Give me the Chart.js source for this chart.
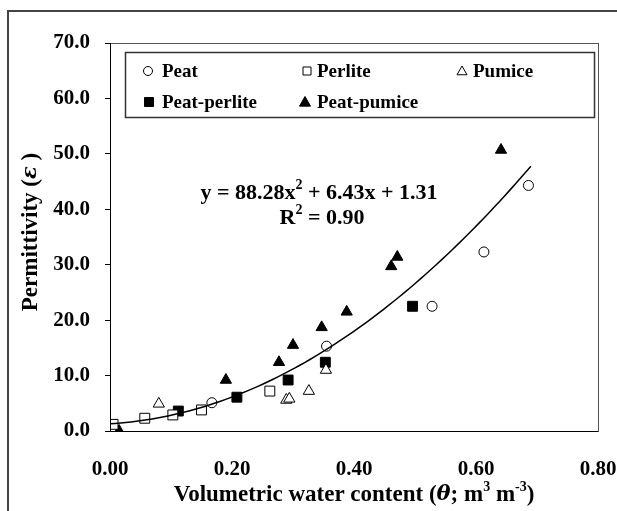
<!DOCTYPE html>
<html>
<head>
<meta charset="utf-8">
<script src="https://cdn.jsdelivr.net/npm/chart.js@4.4.1/dist/chart.umd.min.js"></script>
<style>
  html, body { margin: 0; padding: 0; background: #fff; }
  #wrap { width: 617px; height: 511px; }
</style>
</head>
<body>
<div id="wrap"><canvas id="chart" width="617" height="511"></canvas></div>
<script>
// ===== DATA =====
const peat = [
  { x: 0.167, y: 5.1 }, { x: 0.355, y: 15.3 }, { x: 0.528, y: 22.5 },
  { x: 0.613, y: 32.3 }, { x: 0.686, y: 44.3 }
];
const perlite = [
  { x: 0.005, y: 1.2 }, { x: 0.057, y: 2.3 }, { x: 0.103, y: 2.9 },
  { x: 0.150, y: 3.8 }, { x: 0.262, y: 7.2 }
];
const pumice = [
  { x: 0.080, y: 4.9 }, { x: 0.289, y: 5.6 }, { x: 0.294, y: 5.8 },
  { x: 0.326, y: 7.2 }, { x: 0.354, y: 11.0 }
];
const peatPerlite = [
  { x: 0.112, y: 3.6 }, { x: 0.208, y: 6.1 }, { x: 0.292, y: 9.2 },
  { x: 0.353, y: 12.4 }, { x: 0.496, y: 22.5 }
];
const peatPumice = [
  { x: 0.015, y: 0.0 }, { x: 0.190, y: 9.2 }, { x: 0.277, y: 12.4 },
  { x: 0.300, y: 15.5 }, { x: 0.347, y: 18.7 }, { x: 0.388, y: 21.5 },
  { x: 0.461, y: 29.7 }, { x: 0.471, y: 31.4 }, { x: 0.641, y: 50.7 }
];
const seriesNames = ["Peat", "Perlite", "Pumice", "Peat-perlite", "Peat-pumice"];
const xTicks = [0, 0.2, 0.4, 0.6, 0.8];
const yTicks = [0, 10, 20, 30, 40, 50, 60, 70];
const fitCoef = [88.28, 6.43, 1.31]; // y = a x^2 + b x + c
const fitRange = [0.0, 0.69];
const fitText = ["y = 88.28x", "2", " + 6.43x + 1.31"];
const r2Text = ["R", "2", " = 0.90"];

const SERIF = "'Liberation Serif', 'Times New Roman', serif";
const B = (s) => "bold " + s + "px " + SERIF;
const BI = (s) => "italic bold " + s + "px 'DejaVu Serif', " + SERIF;

// draw pieces of text, {t, font, dy}, centred on cx
function richText(ctx, parts, cx, cy) {
  let w = 0;
  parts.forEach(p => { ctx.font = p.font; w += ctx.measureText(p.t).width; });
  let x = cx - w / 2;
  ctx.textBaseline = "middle";
  ctx.textAlign = "left";
  parts.forEach(p => {
    ctx.font = p.font;
    ctx.fillText(p.t, x, cy + (p.dy || 0));
    x += ctx.measureText(p.t).width;
  });
}

function marker(ctx, style, x, y, r, filled) {
  ctx.beginPath();
  if (style === "circle") {
    ctx.arc(x, y, r, 0, Math.PI * 2);
  } else if (style === "rect") {
    ctx.rect(x - r, y - r, 2 * r, 2 * r);
  } else {
    ctx.moveTo(x, y - r * 1.0);
    ctx.lineTo(x + r, y + r * 0.75);
    ctx.lineTo(x - r, y + r * 0.75);
    ctx.closePath();
  }
  ctx.fillStyle = filled ? "#000" : "#fff";
  ctx.fill();
  ctx.lineWidth = 1;
  ctx.strokeStyle = "#000";
  ctx.stroke();
}

const framePlugin = {
  id: "frame",
  beforeDraw(chart) {
    const ctx = chart.ctx;
    ctx.save();
    ctx.strokeStyle = "#444";
    ctx.lineWidth = 2;
    ctx.beginPath();
    ctx.moveTo(8, 520);
    ctx.lineTo(8, 11);
    ctx.lineTo(620, 11);
    ctx.stroke();
    ctx.restore();
  },
  afterDraw(chart) {
    const ctx = chart.ctx;
    const a = chart.chartArea;
    ctx.save();
    // plot box
    ctx.strokeStyle = "#555";
    ctx.lineWidth = 1;
    ctx.strokeRect(a.left + 0.5, a.top + 0.5, a.right - a.left, a.bottom - a.top);
    ctx.strokeStyle = "#000";
    ctx.beginPath();
    ctx.moveTo(a.left + 0.5, a.top);
    ctx.lineTo(a.left + 0.5, a.bottom + 0.5);
    ctx.lineTo(a.right, a.bottom + 0.5);
    ctx.stroke();

    // legend
    ctx.strokeStyle = "#333";
    ctx.lineWidth = 1.5;
    ctx.strokeRect(125.5, 52.5, 469, 65);
    const items = [
      { s: "circle", f: false, x: 148, y: 71, r: 4.5, tx: 162 },
      { s: "rect", f: false, x: 307, y: 71, r: 4, tx: 317 },
      { s: "triangle", f: false, x: 462, y: 71, r: 5, tx: 473 },
      { s: "rect", f: true, x: 149, y: 102, r: 4.5, tx: 162 },
      { s: "triangle", f: true, x: 305, y: 102, r: 5.5, tx: 317 }
    ];
    items.forEach((it, i) => {
      marker(ctx, it.s, it.x, it.y, it.r, it.f);
      ctx.fillStyle = "#000";
      ctx.font = B(19);
      ctx.textAlign = "left";
      ctx.textBaseline = "middle";
      ctx.fillText(seriesNames[i], it.tx, it.y + 1);
    });

    // equation
    ctx.fillStyle = "#000";
    richText(ctx, [
      { t: fitText[0], font: B(22) },
      { t: fitText[1], font: B(14), dy: -8 },
      { t: fitText[2], font: B(22) }
    ], 319, 193);
    richText(ctx, [
      { t: r2Text[0], font: B(22) },
      { t: r2Text[1], font: B(14), dy: -8 },
      { t: r2Text[2], font: B(22) }
    ], 322, 218);

    // axis titles
    richText(ctx, [
      { t: "Volumetric water content (", font: B(23) },
      { t: "\u03B8", font: BI(21) },
      { t: "; m", font: B(23) },
      { t: "3", font: B(14), dy: -8 },
      { t: " m", font: B(23) },
      { t: "-3", font: B(14), dy: -8 },
      { t: ")", font: B(23) }
    ], 354, 495);

    ctx.translate(31, 232);
    ctx.rotate(-Math.PI / 2);
    richText(ctx, [
      { t: "Permittivity (", font: B(23) },
      { t: "\u03B5", font: BI(21) },
      { t: " )", font: B(23) }
    ], 0, 0);
    ctx.restore();
  }
};

const trendPlugin = {
  id: "trend",
  afterDatasetsDraw(chart) {
    const ctx = chart.ctx;
    const xs = chart.scales.x, ys = chart.scales.y;
    const steps = 80;
    ctx.save();
    ctx.strokeStyle = "#000";
    ctx.lineWidth = 1.5;
    ctx.beginPath();
    for (let i = 0; i <= steps; i++) {
      const x = fitRange[0] + (fitRange[1] - fitRange[0]) * i / steps;
      const y = fitCoef[0] * x * x + fitCoef[1] * x + fitCoef[2];
      const px = xs.getPixelForValue(x), py = ys.getPixelForValue(y);
      if (i === 0) ctx.moveTo(px, py); else ctx.lineTo(px, py);
    }
    ctx.stroke();
    ctx.restore();
  }
};

function ds(label, data, style, filled, radius) {
  return {
    label: label,
    data: data,
    pointStyle: style,
    pointRadius: radius,
    pointBackgroundColor: filled ? "#000" : "#fff",
    pointBorderColor: "#000",
    pointBorderWidth: 1,
    showLine: false
  };
}

new Chart(document.getElementById("chart"), {
  type: "scatter",
  data: {
    datasets: [
      ds(seriesNames[1], perlite, "rect", false, 7),
      ds(seriesNames[0], peat, "circle", false, 5),
      ds(seriesNames[2], pumice, "triangle", false, 6.5),
      ds(seriesNames[3], peatPerlite, "rect", true, 7),
      ds(seriesNames[4], peatPumice, "triangle", true, 6.5)
    ]
  },
  options: {
    responsive: false,
    animation: false,
    layout: { padding: { left: 8, top: 43, right: 19, bottom: 0 } },
    plugins: { legend: { display: false }, tooltip: { enabled: false } },
    scales: {
      x: {
        type: "linear",
        min: 0, max: 0.8,
        afterBuildTicks: s => { s.ticks = xTicks.map(v => ({ value: v })); },
        afterFit: s => { s.height = 80; s.paddingLeft = 0; s.paddingRight = 0; },
        grid: { display: false },
        border: { display: false },
        ticks: {
          padding: 18,
          color: "#000",
          font: { family: SERIF, size: 21, weight: "bold" },
          callback: v => Number(v).toFixed(2)
        }
      },
      y: {
        type: "linear",
        min: 0, max: 70,
        afterBuildTicks: s => { s.ticks = yTicks.map(v => ({ value: v })); },
        afterFit: s => { s.width = 102; s.paddingTop = 0; s.paddingBottom = 0; },
        grid: { drawOnChartArea: false, drawTicks: true, tickLength: 5, color: "#000" },
        border: { display: false },
        ticks: {
          padding: 15,
          color: "#000",
          font: { family: SERIF, size: 21, weight: "bold" },
          callback: v => Number(v).toFixed(1)
        }
      }
    }
  },
  plugins: [framePlugin, trendPlugin]
});
</script>
</body>
</html>
